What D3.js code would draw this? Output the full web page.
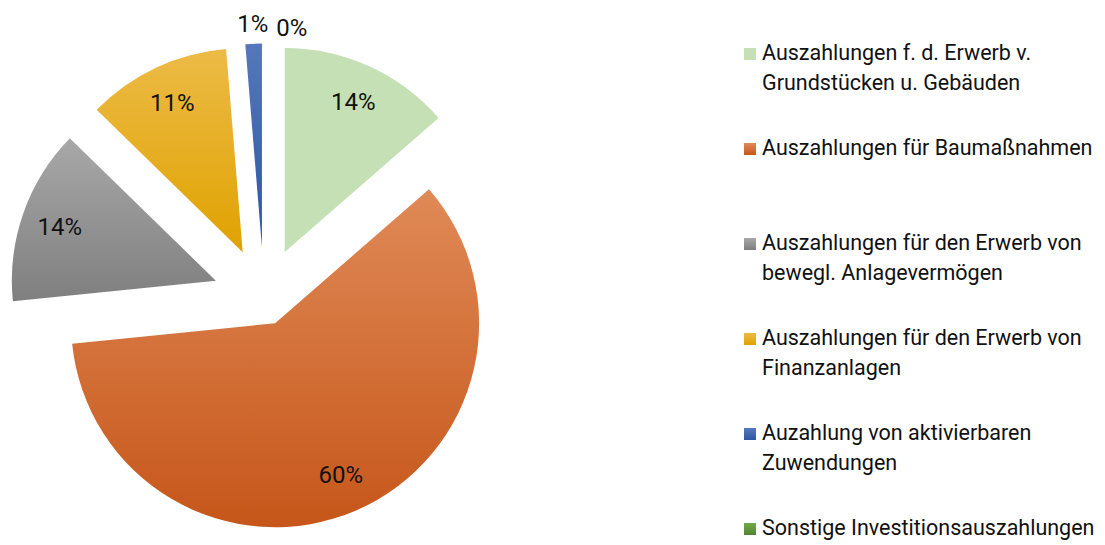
<!DOCTYPE html>
<html>
<head>
<meta charset="utf-8">
<script src="https://cdn.jsdelivr.net/npm/d3@7"></script>
<style>
  body { margin: 0; background: #fff; }
  text { font-family: Roboto, "Noto Sans", sans-serif; fill: #111; }
</style>
</head>
<body>
<svg id="chart" width="1105" height="545"></svg>
<script>
// Data
const categories = [
  "Auszahlungen f. d. Erwerb v. Grundstücken u. Gebäuden",
  "Auszahlungen für Baumaßnahmen",
  "Auszahlungen für den Erwerb von bewegl. Anlagevermögen",
  "Auszahlungen für den Erwerb von Finanzanlagen",
  "Auzahlung von aktivierbaren Zuwendungen",
  "Sonstige Investitionsauszahlungen"
];
const values = [13.6, 59.8, 13.9, 11.4, 1.3, 0];
const percentLabels = ["14%", "60%", "14%", "11%", "1%", "0%"];

// Styling
const colorTop =    ["#c5e0b4", "#e08a57", "#a8a8a8", "#ecbb47", "#5677bb", "#70ad47"];
const colorBottom = ["#c5e0b4", "#c6561a", "#7f7f7f", "#e0a200", "#2e56a5", "#548235"];
const explode = [50, 28, 51, 50, 50, 50];

const cx = 264, cy = 297.5, radius = 204;
const fontSize = 21.5, labelSize = 24;

const svg = d3.select("#chart");
const defs = svg.append("defs");

categories.forEach((c, i) => {
  const g = defs.append("linearGradient")
    .attr("id", "grad" + i)
    .attr("x1", 0).attr("y1", 0).attr("x2", 0).attr("y2", 1);
  g.append("stop").attr("offset", "0%").attr("stop-color", colorTop[i]);
  g.append("stop").attr("offset", "100%").attr("stop-color", colorBottom[i]);
});

const pie = d3.pie().sort(null).value(d => d)(values);
const arc = d3.arc().innerRadius(0).outerRadius(radius);

const slices = svg.append("g").attr("transform", `translate(${cx},${cy})`);

function offset(d, dist) {
  const a = (d.startAngle + d.endAngle) / 2;
  return [Math.sin(a) * dist, -Math.cos(a) * dist];
}

slices.selectAll("path")
  .data(pie)
  .enter().append("path")
    .attr("transform", (d, i) => {
      const [ox, oy] = offset(d, explode[i]);
      return `translate(${ox},${oy})`;
    })
    .attr("d", arc)
    .attr("fill", (d, i) => `url(#grad${i})`);

// Percent labels: inside for big slices, outside for tiny ones
let lastRight = -Infinity;
pie.forEach((d, i) => {
  const [ex, ey] = offset(d, explode[i]);
  const small = values[i] < 3;
  const [lx, ly] = offset(d, radius * (small ? 1.1 : 0.81));
  const t = slices.append("text")
    .attr("text-anchor", "middle")
    .attr("dy", "0.35em")
    .style("font-size", labelSize + "px")
    .text(percentLabels[i]);
  let x = ex + lx, y = ey + ly;
  const w = t.node().getComputedTextLength();
  if (small) {
    // push overlapping outside labels to the right
    if (x - w / 2 < lastRight + 8) { x = lastRight + 8 + w / 2; y += 4; }
    lastRight = x + w / 2;
  }
  t.attr("x", x).attr("y", y);
});

// Legend
const legend = svg.append("g");
const legendX = 744, legendY0 = 60, legendStep = 95, lineH = 29.5, maxW = 345;

categories.forEach((c, i) => {
  const y = legendY0 + i * legendStep;
  legend.append("rect")
    .attr("x", legendX).attr("y", y - 12)
    .attr("width", 12).attr("height", 12)
    .attr("fill", `url(#grad${i})`);
  const t = legend.append("text")
    .attr("x", legendX + 18).attr("y", y)
    .style("font-size", fontSize + "px");
  // simple word wrap
  const words = c.split(" ");
  let line = [], lineNo = 0;
  let ts = t.append("tspan").attr("x", legendX + 18).attr("y", y);
  words.forEach(w => {
    line.push(w);
    ts.text(line.join(" "));
    if (ts.node().getComputedTextLength() > maxW && line.length > 1) {
      line.pop();
      ts.text(line.join(" "));
      line = [w];
      lineNo++;
      ts = t.append("tspan").attr("x", legendX + 18).attr("y", y + lineNo * lineH).text(w);
    }
  });
});
</script>
</body>
</html>
